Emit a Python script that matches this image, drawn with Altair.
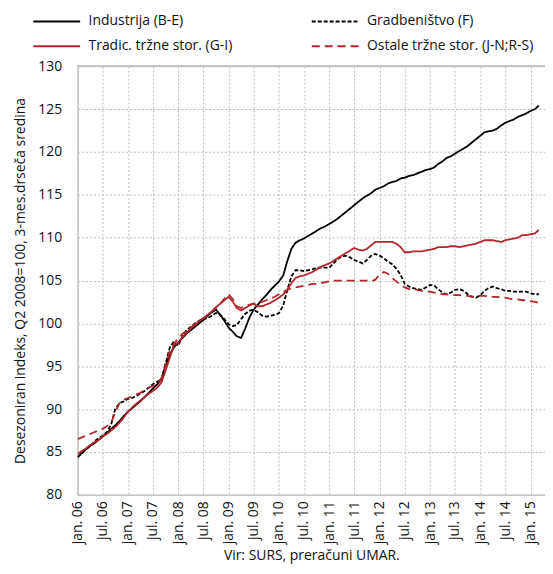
import altair as alt
import pandas as pd

# Monthly values, Jan 2006 .. Mar 2015 (3-month moving average, Q2 2008 = 100)
industrija = [
    84.4, 84.9, 85.3, 85.7, 86.0, 86.4, 86.8, 87.2, 87.7, 88.1, 88.6, 89.2,
    89.7, 90.1, 90.5, 90.9, 91.4, 91.9, 92.4, 92.9, 93.5, 95.0, 96.3, 97.2,
    97.8, 98.3, 98.8, 99.2, 99.6, 100.0, 100.4, 100.9, 101.3, 101.6, 101.0, 100.3,
    99.5, 99.0, 98.5, 98.3, 99.4, 100.7, 101.6, 102.2, 102.8, 103.3, 103.9, 104.4,
    104.9, 105.6, 107.2, 108.7, 109.4, 109.7, 109.9, 110.2, 110.5, 110.8, 111.1, 111.3,
    111.6, 111.9, 112.2, 112.6, 113.0, 113.4, 113.8, 114.2, 114.6, 114.9, 115.2, 115.6,
    115.8, 116.0, 116.3, 116.5, 116.6, 116.9, 117.0, 117.2, 117.3, 117.5, 117.7, 117.9,
    118.0, 118.2, 118.6, 118.9, 119.3, 119.5, 119.8, 120.1, 120.4, 120.7, 121.1, 121.5,
    121.9, 122.3, 122.4, 122.5, 122.7, 123.1, 123.4, 123.6, 123.8, 124.1, 124.3, 124.5,
    124.8, 125.0, 125.4,
]
gradbenistvo = [
    84.4, 84.8, 85.3, 85.7, 86.2, 86.6, 86.9, 87.3, 88.2, 90.0, 90.7, 90.9,
    91.2, 91.3, 91.5, 91.8, 92.1, 92.5, 92.9, 93.2, 93.5, 95.3, 97.2, 97.9,
    97.4, 98.5, 99.2, 99.6, 100.0, 100.3, 100.5, 100.6, 100.9, 101.2, 101.0, 100.5,
    99.9, 99.7, 99.8, 100.5, 101.1, 101.5, 101.6, 101.3, 100.9, 100.8, 100.9, 101.0,
    101.2, 102.1, 103.8, 105.5, 106.2, 106.2, 106.1, 106.2, 106.3, 106.5, 106.5, 106.5,
    106.5, 107.0, 107.5, 107.8, 107.9, 107.7, 107.4, 107.2, 107.0, 107.4, 107.9, 108.1,
    107.9, 107.6, 107.2, 106.9, 106.4, 105.7, 104.6, 104.3, 104.1, 104.0, 103.9, 104.2,
    104.5, 104.4, 104.0, 103.6, 103.4, 103.6, 103.9, 104.0, 103.8, 103.4, 103.1, 103.0,
    103.3, 103.8, 104.1, 104.3, 104.1, 104.0, 103.8, 103.8, 103.7, 103.7, 103.7, 103.7,
    103.5, 103.4, 103.4,
]
tradicionalne = [
    84.8, 85.1, 85.4, 85.8, 86.1, 86.4, 86.8, 87.1, 87.5, 87.9, 88.4, 89.0,
    89.7, 90.2, 90.6, 91.0, 91.4, 91.8, 92.1, 92.5, 93.1, 94.5, 96.0, 97.5,
    97.7, 98.4, 98.9, 99.4, 99.8, 100.3, 100.6, 101.0, 101.4, 101.9, 102.3, 102.7,
    103.1, 102.5, 101.8, 101.5, 101.8, 102.1, 102.3, 102.0, 102.0, 102.2, 102.4, 102.7,
    103.0, 103.4, 103.9, 104.7, 105.3, 105.5, 105.6, 105.8, 106.0, 106.3, 106.6, 106.8,
    107.0, 107.3, 107.6, 107.9, 108.2, 108.5, 108.8, 108.6, 108.5, 108.7, 109.1, 109.5,
    109.5, 109.5, 109.5, 109.5, 109.3, 108.9, 108.3, 108.3, 108.4, 108.4, 108.4, 108.5,
    108.6, 108.7, 108.9, 108.9, 108.9, 109.0, 109.0, 108.9, 109.0, 109.1, 109.2, 109.3,
    109.5, 109.7, 109.7, 109.7, 109.6, 109.5, 109.7, 109.8, 109.9, 110.0, 110.3, 110.3,
    110.4, 110.5, 110.9,
]
ostale = [
    86.5, 86.7, 86.9, 87.1, 87.3, 87.5, 87.7, 88.0, 88.4, 89.6, 90.7, 91.1,
    91.3, 91.5, 91.7, 91.9, 92.2, 92.5, 92.7, 93.0, 93.6, 95.2, 96.8, 97.6,
    98.3, 98.8, 99.1, 99.5, 99.9, 100.3, 100.6, 101.0, 101.4, 101.8, 102.3, 102.9,
    103.4, 102.8, 102.0, 101.8, 102.0, 102.2, 102.3, 102.4, 102.5, 102.7, 102.9, 103.1,
    103.4, 103.7, 103.9, 104.1, 104.2, 104.3, 104.4, 104.5, 104.6, 104.6, 104.7, 104.8,
    104.9, 105.0, 105.0, 105.0, 105.0, 105.0, 105.0, 105.0, 105.0, 105.0, 104.9, 105.1,
    105.7, 106.0, 105.8, 105.3, 104.9, 104.5, 104.2, 104.0, 104.0, 103.9, 103.8, 103.7,
    103.7, 103.6, 103.5, 103.4, 103.4, 103.3, 103.3, 103.3, 103.2, 103.2, 103.1, 103.2,
    103.2, 103.2, 103.1, 103.1, 103.1, 103.0, 103.0, 102.9, 102.8, 102.8, 102.7, 102.7,
    102.6, 102.5, 102.4,
]

series_names = [
    "Industrija (B-E)",
    "Gradbeništvo (F)",
    "Tradic. tržne stor. (G-I)",
    "Ostale tržne stor. (J-N;R-S)",
]
series_values = [industrija, gradbenistvo, tradicionalne, ostale]

months = pd.date_range("2006-01-01", periods=len(industrija), freq="MS")
month_str = [d.strftime("%Y/%m/%d") for d in months]

rows = []
for name, vals in zip(series_names, series_values):
    for m, v in zip(month_str, vals):
        rows.append({"mesec": m, "serija": name, "indeks": v})
df = pd.DataFrame(rows)

tick_dates = [alt.DateTime(year=y, month=mo, date=1) for y in range(2006, 2016) for mo in (1, 7)]
tick_dates = tick_dates[:-1]

FONT = "Open Sans"
GRID = "#bdbdbd"
FRAME = "#c4c4c4"
RED = "#B3262B"

x_enc = alt.X(
    "mesec:T",
    scale=alt.Scale(domain=[alt.DateTime(year=2006, month=1, date=1),
                            alt.DateTime(year=2015, month=4, date=15)]),
    axis=alt.Axis(
        values=tick_dates,
        labelExpr="(month(datum.value) == 0 ? 'jan. ' : 'jul. ') + timeFormat(datum.value, '%y')",
        labelAngle=270,
        labelFontSize=14,
        labelFont=FONT,
        labelColor="#111",
        labelPadding=6,
        ticks=False,
        grid=True,
        gridColor=GRID,
        gridDash=[2, 2],
        gridWidth=1,
        domainColor=FRAME,
        domainWidth=1.5,
        title="Vir: SURS, preračuni UMAR.",
        titleFont=FONT,
        titleFontSize=14,
        titleFontWeight="normal",
        titleColor="#111",
        titlePadding=5,
        labelOverlap=False,
    ),
)

y_enc = alt.Y(
    "indeks:Q",
    scale=alt.Scale(domain=[80, 130], nice=False, zero=False),
    axis=alt.Axis(
        values=list(range(80, 131, 5)),
        labelFontSize=14,
        labelFont=FONT,
        labelColor="#111",
        labelPadding=16,
        ticks=False,
        grid=True,
        gridColor=GRID,
        gridDash=[2, 2],
        gridWidth=1,
        domainColor=FRAME,
        domainWidth=1.5,
        title="Desezoniran indeks, Q2 2008=100, 3-mes.drseča sredina",
        titleFont=FONT,
        titleFontSize=14,
        titleFontWeight="normal",
        titleColor="#111",
        titlePadding=10,
    ),
)

lines = alt.Chart(df).mark_line(clip=True, strokeWidth=1.8).encode(
    x=x_enc,
    y=y_enc,
    color=alt.Color(
        "serija:N",
        scale=alt.Scale(domain=series_names, range=["#000000", "#000000", RED, RED]),
        legend=alt.Legend(
            title=None,
            orient="none",
            legendX=-30,
            legendY=-54,
            direction="horizontal",
            columns=2,
            columnPadding=75,
            rowPadding=9,
            symbolType="M-3,0H3",
            symbolSize=246,
            symbolStrokeWidth=2,
            labelFont=FONT,
            labelFontSize=14,
            labelColor="#111",
            labelOffset=23,
            labelLimit=300,
        ),
    ),
    strokeDash=alt.StrokeDash(
        "serija:N",
        scale=alt.Scale(domain=series_names, range=[[1, 0], [4, 2], [1, 0], [8, 5]]),
    ),
    order=alt.Order("mesec:T"),
)

top_frame = alt.Chart(df).mark_rule(color=FRAME, strokeWidth=1.5).encode(
    y=alt.datum(130)
)

chart = (
    alt.layer(top_frame, lines)
    .properties(
        width=470,
        height=431,
        autosize=alt.AutoSizeParams(type="none"),
        padding={"left": 70, "top": 57, "right": 0, "bottom": 70},
    )
    .configure_view(stroke=None)
    .configure(background="white")
)

chart.save("out.html", embed_options={"renderer": "svg", "actions": False})
